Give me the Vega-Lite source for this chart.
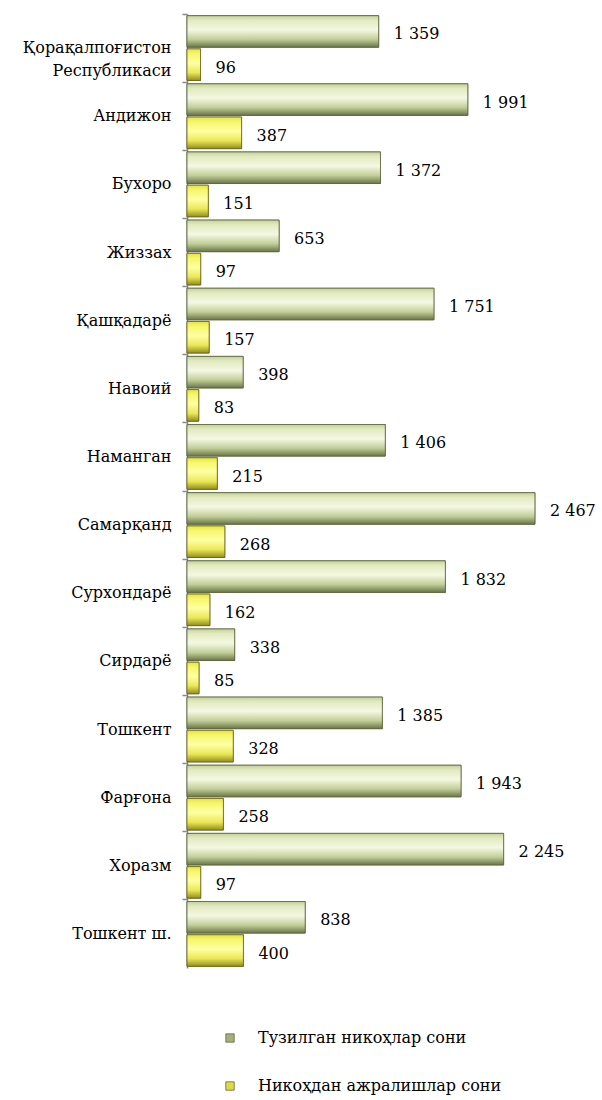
{
  "$schema": "https://vega.github.io/schema/vega-lite/v6.json",
  "autosize": "none",
  "width": 409,
  "height": 954,
  "padding": {"left": 187, "top": 14, "right": 6, "bottom": 132},
  "background": "white",
  "config": {
    "view": {"stroke": null},
    "locale": {"number": {"decimal": ".", "thousands": " ", "grouping": [3], "currency": ["", ""]}},
    "font": "DejaVu Serif"
  },
  "data": {"values": [
    {"region": "Қорақалпоғистон Республикаси", "series": "Тузилган никоҳлар сони", "value": 1359},
    {"region": "Қорақалпоғистон Республикаси", "series": "Никоҳдан ажралишлар сони", "value": 96},
    {"region": "Андижон", "series": "Тузилган никоҳлар сони", "value": 1991},
    {"region": "Андижон", "series": "Никоҳдан ажралишлар сони", "value": 387},
    {"region": "Бухоро", "series": "Тузилган никоҳлар сони", "value": 1372},
    {"region": "Бухоро", "series": "Никоҳдан ажралишлар сони", "value": 151},
    {"region": "Жиззах", "series": "Тузилган никоҳлар сони", "value": 653},
    {"region": "Жиззах", "series": "Никоҳдан ажралишлар сони", "value": 97},
    {"region": "Қашқадарё", "series": "Тузилган никоҳлар сони", "value": 1751},
    {"region": "Қашқадарё", "series": "Никоҳдан ажралишлар сони", "value": 157},
    {"region": "Навоий", "series": "Тузилган никоҳлар сони", "value": 398},
    {"region": "Навоий", "series": "Никоҳдан ажралишлар сони", "value": 83},
    {"region": "Наманган", "series": "Тузилган никоҳлар сони", "value": 1406},
    {"region": "Наманган", "series": "Никоҳдан ажралишлар сони", "value": 215},
    {"region": "Самарқанд", "series": "Тузилган никоҳлар сони", "value": 2467},
    {"region": "Самарқанд", "series": "Никоҳдан ажралишлар сони", "value": 268},
    {"region": "Сурхондарё", "series": "Тузилган никоҳлар сони", "value": 1832},
    {"region": "Сурхондарё", "series": "Никоҳдан ажралишлар сони", "value": 162},
    {"region": "Сирдарё", "series": "Тузилган никоҳлар сони", "value": 338},
    {"region": "Сирдарё", "series": "Никоҳдан ажралишлар сони", "value": 85},
    {"region": "Тошкент ", "series": "Тузилган никоҳлар сони", "value": 1385},
    {"region": "Тошкент ", "series": "Никоҳдан ажралишлар сони", "value": 328},
    {"region": "Фарғона", "series": "Тузилган никоҳлар сони", "value": 1943},
    {"region": "Фарғона", "series": "Никоҳдан ажралишлар сони", "value": 258},
    {"region": "Хоразм", "series": "Тузилган никоҳлар сони", "value": 2245},
    {"region": "Хоразм", "series": "Никоҳдан ажралишлар сони", "value": 97},
    {"region": "Тошкент ш.", "series": "Тузилган никоҳлар сони", "value": 838},
    {"region": "Тошкент ш.", "series": "Никоҳдан ажралишлар сони", "value": 400}
  ]},
  "encoding": {
    "y": {
      "field": "region", "type": "nominal", "sort": null,
      "scale": {"paddingInner": 0, "paddingOuter": 0},
      "axis": {
        "title": null,
        "domainColor": "#888888", "domainWidth": 1.5,
        "tickColor": "#888888", "tickSize": 5, "tickWidth": 1.5,
        "bandPosition": 0,
        "labelFont": "DejaVu Serif", "labelFontSize": 16, "labelFontWeight": "normal", "labelColor": "#000000",
        "labelPadding": 11, "labelLimit": 200, "labelLineHeight": 23,
        "labelExpr": "datum.value == 'Қорақалпоғистон Республикаси' ? ['Қорақалпоғистон', 'Республикаси'] : datum.value"
      }
    },
    "yOffset": {
      "field": "series", "type": "nominal", "sort": ["Тузилган никоҳлар сони", "Никоҳдан ажралишлар сони"],
      "scale": {"domain": ["Тузилган никоҳлар сони", "Никоҳдан ажралишлар сони"], "paddingInner": 0.05, "paddingOuter": 0.05}
    },
    "x": {
      "field": "value", "type": "quantitative",
      "scale": {"domain": [0, 2900]},
      "axis": null
    }
  },
  "layer": [
    {
      "mark": {"type": "bar", "stroke": "#5e6640", "strokeWidth": 0.8},
      "encoding": {
        "color": {
          "field": "series", "type": "nominal",
          "sort": ["Тузилган никоҳлар сони", "Никоҳдан ажралишлар сони"],
          "scale": {
            "domain": ["Тузилган никоҳлар сони", "Никоҳдан ажралишлар сони"],
            "range": ["#a4b07a", "#e0dc40"]
          },
          "legend": {
            "title": null, "orient": "none", "legendX": 35, "legendY": 1016,
            "direction": "vertical",
            "symbolType": "square", "symbolSize": 70, "symbolStrokeColor": "#5e6640", "symbolStrokeWidth": 0.8,
            "labelFont": "DejaVu Serif", "labelFontSize": 16, "labelColor": "#000000",
            "labelOffset": 20, "rowPadding": 32, "labelLimit": 400
          }
        }
      }
    },
    {
      "transform": [{"filter": "datum.series == 'Тузилган никоҳлар сони'"}],
      "mark": {"type": "bar", "stroke": "#5e6640", "strokeWidth": 0.8,
        "color": {"gradient": "linear", "x1": 0, "y1": 0, "x2": 0, "y2": 1, "stops": [
          {"offset": 0, "color": "#c4d09a"},
          {"offset": 0.15, "color": "#e2eac0"},
          {"offset": 0.45, "color": "#f4f8e2"},
          {"offset": 0.75, "color": "#c2ce98"},
          {"offset": 1, "color": "#6a7548"}
        ]}
      }
    },
    {
      "transform": [{"filter": "datum.series == 'Никоҳдан ажралишлар сони'"}],
      "mark": {"type": "bar", "stroke": "#6b6520", "strokeWidth": 0.8,
        "color": {"gradient": "linear", "x1": 0, "y1": 0, "x2": 0, "y2": 1, "stops": [
          {"offset": 0, "color": "#e4e248"},
          {"offset": 0.15, "color": "#f6f66a"},
          {"offset": 0.45, "color": "#ffffa4"},
          {"offset": 0.75, "color": "#eae856"},
          {"offset": 1, "color": "#938d1c"}
        ]}
      }
    },
    {
      "mark": {"type": "text", "align": "left", "baseline": "middle", "dx": 15, "dy": 3, "font": "DejaVu Serif", "fontSize": 16, "color": "#000000"},
      "encoding": {
        "text": {"field": "value", "type": "quantitative", "format": ",d"}
      }
    }
  ]
}
